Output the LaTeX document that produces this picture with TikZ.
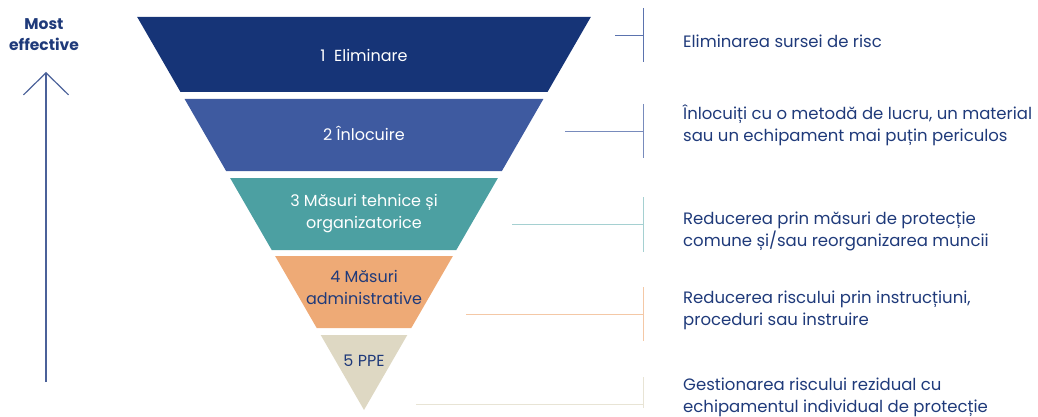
\documentclass[tikz,border=0pt]{standalone}
\usepackage{fontspec}
\setmainfont{Poppins}
\usetikzlibrary{arrows.meta}

\definecolor{navy}{HTML}{163477}
\definecolor{inkblue}{HTML}{1F3A7A}
\definecolor{midblue}{HTML}{3E5AA0}
\definecolor{teal}{HTML}{4CA0A2}
\definecolor{apricot}{HTML}{EEAA76}
\definecolor{sand}{HTML}{DED8C3}

\begin{document}
\begin{tikzpicture}[x=1pt,y=-1pt,
	band/.style={font=\fontsize{16}{22}\selectfont, align=center},
	desc/.style={anchor=west, font=\fontsize{16.5}{22}\selectfont, text=inkblue, align=left, inner sep=0pt},
	tick/.style={line width=1pt}]
	\useasboundingbox (0,0) rectangle (1038,417);
	
	% the five levels of the inverted triangle
	\fill[navy] (137.2,17) -- (590.8,17) -- (547.5,92) -- (180.5,92) -- cycle;
	\fill[midblue] (184.6,99) -- (543.4,99) -- (501.9,171) -- (226.1,171) -- cycle;
	\fill[teal] (230.1,178) -- (497.9,178) -- (456.3,250) -- (271.7,250) -- cycle;
	\fill[apricot] (275.1,256) -- (452.9,256) -- (411.3,328) -- (316.7,328) -- cycle;
	\fill[sand] (320.7,335) -- (407.3,335) -- (364,410) -- cycle;
	
	\node[band, text=white] (L1) at (364,55) {1\ \ Eliminare};
	\node[band, text=white] (L2) at (364,133) {2 Înlocuire};
	\node[band, text=white] (L3) at (364,214) {3 Măsuri tehnice și\\organizatorice};
	\node[band, text=inkblue] (L4) at (364,287) {4 Măsuri\\administrative};
	\node[band, text=inkblue] (L5) at (364,361) {5 PPE};
	
	% effectiveness arrow
	\node[font=\bfseries\fontsize{15.5}{21}\selectfont, text=inkblue, align=center] (top) at (44,35) {Most\\effective};
	\coordinate (up) at (46,72);
	\coordinate (down) at (46,382);
	\draw[line width=1.2pt, color=midblue!80!gray, -{Straight Barb[length=22pt,width=45pt]}] (down) -- (up);
	
	% brackets to the descriptions
	\coordinate (h1) at (615,36);	\coordinate (b1) at (643,36);
	\coordinate (h2) at (565,132);	\coordinate (b2) at (643,132);
	\coordinate (h3) at (512,224);	\coordinate (b3) at (643,224);
	\coordinate (h4) at (466,314);	\coordinate (b4) at (643,314);
	\coordinate (h5) at (416,404);	\coordinate (b5) at (643,404);
	
	\draw[tick, midblue!85] (h1) -- (b1);
	\draw[tick, midblue!85] (643,8) -- (643,62);
	\draw[tick, midblue!70] (h2) -- (b2);
	\draw[tick, midblue!70] (643,104) -- (643,158);
	\draw[tick, teal!50] (h3) -- (b3);
	\draw[tick, teal!50] (643,197) -- (643,252);
	\draw[tick, apricot!65] (h4) -- (b4);
	\draw[tick, apricot!65] (643,287) -- (643,341);
	\draw[tick, sand!70] (h5) -- (b5);
	\draw[tick, sand!70] (643,377) -- (643,408);
	
	\node[desc] (D1) at (683,41) {Eliminarea sursei de risc};
	\node[desc] (D2) at (683,125) {Înlocuiți cu o metodă de lucru, un material\\sau un echipament mai puțin periculos};
	\node[desc] (D3) at (683,231) {Reducerea prin măsuri de protecție\\comune și/sau reorganizarea muncii};
	\node[desc] (D4) at (683,310) {Reducerea riscului prin instrucțiuni,\\proceduri sau instruire};
	\node[desc] (D5) at (683,397) {Gestionarea riscului rezidual cu\\echipamentul individual de protecție};
	
\end{tikzpicture}
\end{document}
